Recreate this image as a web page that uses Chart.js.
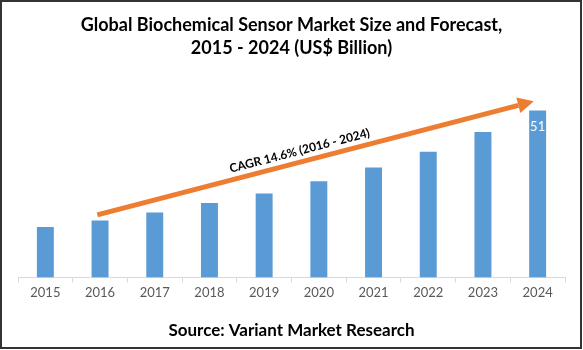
<!DOCTYPE html>
<html>
<head>
<meta charset="utf-8">
<title>Global Biochemical Sensor Market</title>
<script src="https://cdn.jsdelivr.net/npm/chart.js@4.4.1/dist/chart.umd.min.js"></script>
<style>
  html, body { margin: 0; padding: 0; background: #fff; }
  #wrap { position: absolute; left: 0; top: 0; width: 583px; height: 350px; }
  #frame {
    position: absolute; left: 0; top: 0; width: 582px; height: 349px;
    box-sizing: border-box; border: 2px solid #333; pointer-events: none;
  }
</style>
</head>
<body>
<div id="wrap"><canvas id="marketChart" width="583" height="350"></canvas></div>
<div id="frame"></div>
<script>
const years = ["2015", "2016", "2017", "2018", "2019", "2020", "2021", "2022", "2023", "2024"];
const marketSize = [15.4, 17.4, 19.8, 22.7, 25.6, 29.4, 33.6, 38.4, 44.4, 51];
const labelledYears = ["2024"];

// growth arrow, ends given as [category index, value]
const cagrText = "CAGR 14.6% (2016 - 2024)";
const arrowStart = [0.95, 19.1];
const arrowEnd = [8.93, 53.8];

const FONT = "Lato, 'Open Sans', sans-serif";
const BLUE = "#5B9BD5";
const ORANGE = "#ED7D31";

// value printed inside the top of the selected bars
const barValueLabels = {
  id: "barValueLabels",
  afterDatasetsDraw(chart) {
    const ctx = chart.ctx;
    const meta = chart.getDatasetMeta(0);
    ctx.save();
    ctx.font = "13px " + FONT;
    ctx.fillStyle = "#ffffff";
    ctx.textAlign = "center";
    ctx.textBaseline = "middle";
    meta.data.forEach((bar, i) => {
      if (!labelledYears.includes(years[i])) return;
      ctx.fillText(String(marketSize[i]), bar.x, bar.y + 16);
    });
    ctx.restore();
  }
};

// orange trend arrow with the CAGR caption along it
const cagrArrow = {
  id: "cagrArrow",
  afterDatasetsDraw(chart) {
    const ctx = chart.ctx;
    const xs = chart.scales.x, ys = chart.scales.y;
    const x1 = xs.getPixelForValue(arrowStart[0]), y1 = ys.getPixelForValue(arrowStart[1]);
    const x2 = xs.getPixelForValue(arrowEnd[0]), y2 = ys.getPixelForValue(arrowEnd[1]);
    const ang = Math.atan2(y2 - y1, x2 - x1);
    const headLen = 16, headW = 8;
    const bx = x2 - headLen * Math.cos(ang), by = y2 - headLen * Math.sin(ang);

    ctx.save();
    ctx.strokeStyle = ORANGE;
    ctx.fillStyle = ORANGE;
    ctx.lineWidth = 5;
    ctx.beginPath();
    ctx.moveTo(x1, y1);
    ctx.lineTo(bx, by);
    ctx.stroke();
    ctx.beginPath();
    ctx.moveTo(x2, y2);
    ctx.lineTo(bx + headW * Math.sin(ang), by - headW * Math.cos(ang));
    ctx.lineTo(bx - headW * Math.sin(ang), by + headW * Math.cos(ang));
    ctx.closePath();
    ctx.fill();

    const t = 0.47;
    const tx = x1 + (x2 - x1) * t, ty = y1 + (y2 - y1) * t;
    ctx.translate(tx, ty);
    ctx.rotate(ang);
    ctx.font = "bold 12px " + FONT;
    ctx.fillStyle = "#000";
    ctx.textAlign = "center";
    ctx.textBaseline = "middle";
    ctx.fillText(cagrText, 0, -11);
    ctx.restore();
  }
};

new Chart(document.getElementById("marketChart"), {
  type: "bar",
  data: {
    labels: years,
    datasets: [{
      data: marketSize,
      backgroundColor: BLUE,
      borderWidth: 0,
      categoryPercentage: 1,
      barPercentage: 0.31
    }]
  },
  options: {
    responsive: false,
    animation: false,
    layout: { padding: { left: 18, right: 18, top: 0, bottom: 0 } },
    plugins: {
      legend: { display: false },
      tooltip: { enabled: false },
      title: {
        display: true,
        text: ["Global Biochemical Sensor Market Size and Forecast,", "2015 - 2024 (US$ Billion)"],
        color: "#000",
        font: { family: FONT, size: 18, weight: "bold", lineHeight: 23 / 18 },
        padding: { top: 14, bottom: 21 }
      },
      subtitle: {
        display: true,
        position: "bottom",
        text: "Source: Variant Market Research",
        color: "#000",
        font: { family: FONT, size: 17, weight: "bold", lineHeight: 20 / 17 },
        padding: { top: 17, bottom: 9 }
      }
    },
    scales: {
      x: {
        grid: { drawOnChartArea: false, drawTicks: true, tickLength: 5, color: "#d9d9d9" },
        border: { color: "#d9d9d9" },
        ticks: { color: "#595959", font: { family: FONT, size: 13 }, padding: 3 }
      },
      y: { display: false, min: 0, max: 60 }
    }
  },
  plugins: [barValueLabels, cagrArrow]
});
</script>
</body>
</html>
